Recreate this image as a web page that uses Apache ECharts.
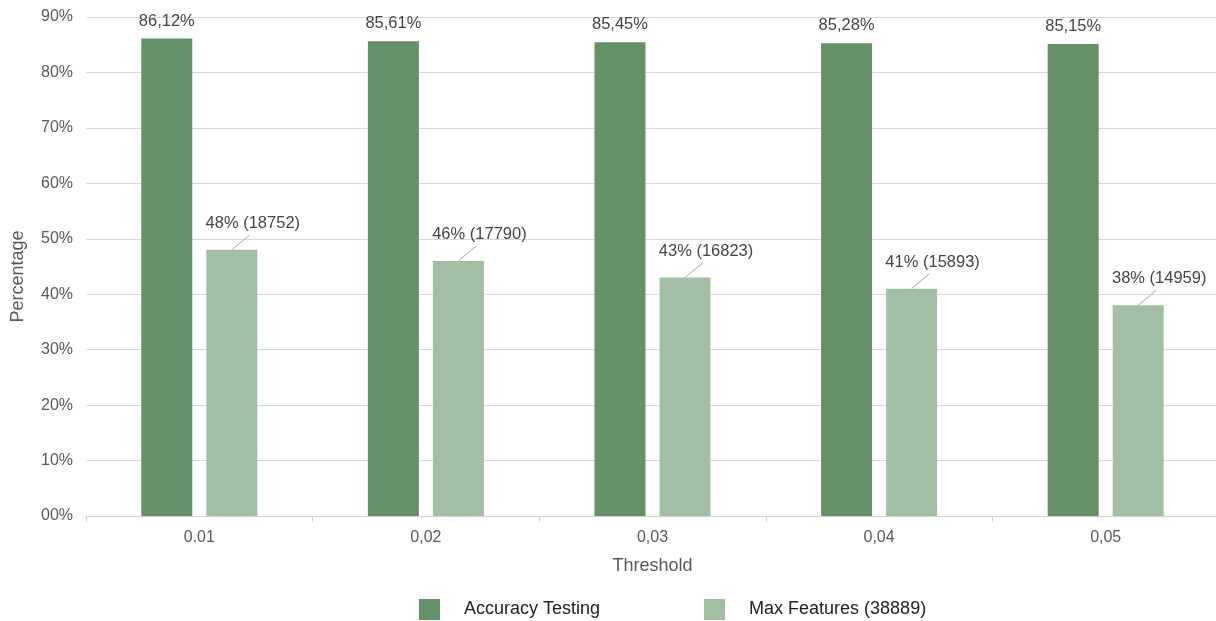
<!DOCTYPE html>
<html>
<head>
<meta charset="utf-8">
<script src="https://cdn.jsdelivr.net/npm/echarts@6/dist/echarts.min.js"></script>
<style>
  html, body { margin: 0; padding: 0; background: #fff; }
  #chart { width: 1216px; height: 621px; }
</style>
</head>
<body>
<div id="chart"></div>
<script>
// Threshold categories as shown on the x axis
const thresholds = ['0.01', '0,02', '0,03', '0,04', '0,05'];
// Accuracy on the test set (%)
const accuracy = [86.12, 85.61, 85.45, 85.28, 85.15];
// Share of the 38889 features kept (%) and the matching feature counts
const featurePct = [48, 46, 43, 41, 38];
const featureCount = [18752, 17790, 16823, 15893, 14959];
// Y axis tick labels, 0 to 90 in steps of 10
const yTickLabels = ['00%', '10%', '20%', '30%', '40%', '50%', '60%', '70%', '80%', '90%'];

const DARK = '#649167';
const LIGHT = '#a2bfa4';
const FONT = 'Liberation Sans, Arial, sans-serif';
const TEXT = '#595959';

// Bar geometry: two 51px bars with a 14px gap, centred on each category
const BAR_W = 51;
const BAR_GAP = 14;
const LIGHT_SHIFT = (BAR_W + BAR_GAP) / 2;

const chart = echarts.init(document.getElementById('chart'), null, { renderer: 'canvas' });

chart.setOption({
  animation: false,
  textStyle: { fontFamily: FONT },
  grid: { left: 86, right: -3, top: 17, bottom: 105, containLabel: false, outerBoundsMode: 'none' },
  legend: {
    top: 594,
    left: 414,
    itemWidth: 21,
    itemHeight: 21,
    itemGap: 104,
    icon: 'rect',
    textStyle: { fontFamily: FONT, fontSize: 18, color: '#222', padding: [0, 0, 0, 19] },
    data: ['Accuracy Testing', 'Max Features (38889)']
  },
  xAxis: {
    type: 'category',
    data: thresholds,
    name: 'Threshold',
    nameLocation: 'middle',
    nameGap: 41,
    nameTextStyle: { fontFamily: FONT, fontSize: 18, color: TEXT },
    axisLine: { lineStyle: { color: '#d0d0d0', width: 1 } },
    axisTick: { show: true, length: 6, lineStyle: { color: '#d0d0d0' } },
    axisLabel: { fontFamily: FONT, fontSize: 16, color: TEXT, margin: 14 }
  },
  yAxis: {
    type: 'value',
    min: 0,
    max: 90,
    interval: 10,
    name: 'Percentage',
    nameLocation: 'middle',
    nameGap: 59,
    nameTextStyle: { fontFamily: FONT, fontSize: 18, color: TEXT, padding: [0, 20, 0, 0] },
    axisLine: { show: false },
    axisTick: { show: false },
    splitLine: { lineStyle: { color: '#d9d9d9', width: 1 } },
    axisLabel: {
      fontFamily: FONT, fontSize: 16, color: TEXT, margin: 13,
      formatter: (v) => yTickLabels[Math.round(v / 10)]
    }
  },
  series: [
    {
      name: 'Accuracy Testing',
      type: 'bar',
      data: accuracy,
      barWidth: BAR_W,
      barGap: (BAR_GAP / BAR_W * 100).toFixed(1) + '%',
      itemStyle: { color: DARK },
      label: {
        show: true,
        position: 'top',
        distance: 9,
        fontFamily: FONT,
        fontSize: 16.5,
        color: '#444',
        formatter: (p) => p.value.toFixed(2).replace('.', ',') + '%'
      }
    },
    {
      name: 'Max Features (38889)',
      type: 'bar',
      data: featurePct,
      barWidth: BAR_W,
      itemStyle: { color: LIGHT },
      label: {
        show: true,
        position: 'top',
        distance: 5,
        offset: [21, -13],
        fontFamily: FONT,
        fontSize: 16.5,
        color: '#444',
        formatter: (p) => featurePct[p.dataIndex] + '% (' + featureCount[p.dataIndex] + ')'
      }
    },
    {
      // Leader lines from the top of each feature bar to its label
      name: 'leader',
      type: 'custom',
      silent: true,
      z: 5,
      data: featurePct.map((v, i) => [i, v]),
      encode: { x: 0, y: 1 },
      renderItem: (params, api) => {
        const p = api.coord([api.value(0), api.value(1)]);
        const x0 = p[0] + LIGHT_SHIFT;
        const y0 = p[1];
        return {
          type: 'line',
          shape: { x1: x0, y1: y0, x2: x0 + 18, y2: y0 - 15 },
          style: { stroke: '#a6a6a6', lineWidth: 1 }
        };
      }
    }
  ]
});
</script>
</body>
</html>
